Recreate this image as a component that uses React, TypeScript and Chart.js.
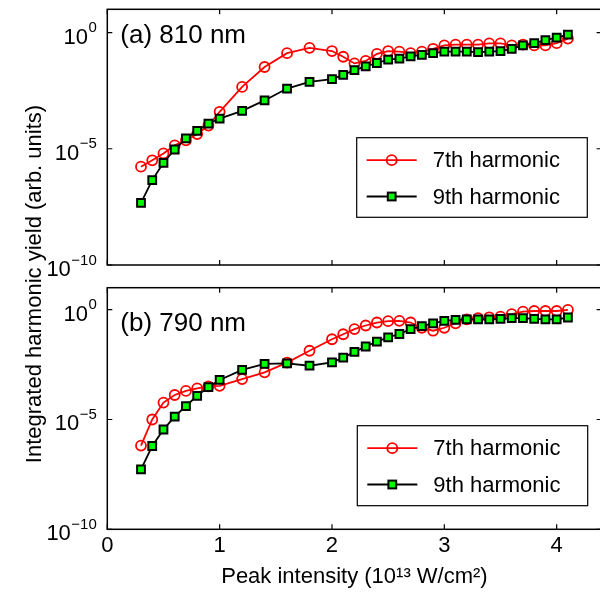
import React, { useEffect, useRef } from "react";
import { Chart, registerables } from "chart.js";

Chart.register(...registerables);

// ---------- data ----------
const intensity = [
  0.3, 0.4, 0.5, 0.6, 0.7, 0.8, 0.9, 1.0, 1.2, 1.4, 1.6, 1.8, 2.0, 2.1, 2.2, 2.3, 2.4,
  2.5, 2.6, 2.7, 2.8, 2.9, 3.0, 3.1, 3.2, 3.3, 3.4, 3.5, 3.6, 3.7, 3.8, 3.9, 4.0, 4.1,
];

const h7_810 = [
  1.7e-6, 3.2e-6, 6.3e-6, 1.4e-5, 2.3e-5, 4.3e-5, 1.0e-4, 3.9e-4, 4.6e-3, 3.3e-2, 0.13,
  0.22, 0.16, 0.091, 0.047, 0.06, 0.12, 0.16, 0.15, 0.13, 0.15, 0.2, 0.28, 0.3, 0.3, 0.3,
  0.34, 0.34, 0.28, 0.3, 0.28, 0.28, 0.35, 0.55,
];
const h9_810 = [
  4.7e-8, 4.5e-7, 2.5e-6, 9.3e-6, 2.8e-5, 5.9e-5, 1.2e-4, 2.0e-4, 4.3e-4, 1.2e-3, 3.9e-3,
  7.6e-3, 1.0e-2, 1.5e-2, 2.4e-2, 3.5e-2, 4.9e-2, 6.9e-2, 7.6e-2, 9.5e-2, 0.11, 0.13, 0.15,
  0.15, 0.15, 0.145, 0.15, 0.16, 0.2, 0.28, 0.35, 0.47, 0.6, 0.81,
];
const h7_790 = [
  6.5e-7, 1.0e-5, 5.9e-5, 1.3e-4, 2.0e-4, 2.6e-4, 3.2e-4, 3.4e-4, 6.9e-4, 1.4e-3, 3.9e-3,
  1.35e-2, 4.5e-2, 7.6e-2, 0.13, 0.19, 0.26, 0.3, 0.31, 0.26, 0.15, 0.11, 0.15, 0.24, 0.36,
  0.41, 0.45, 0.48, 0.62, 0.81, 0.87, 0.87, 0.87, 0.98,
];
const h9_790 = [
  5.4e-8, 6.2e-7, 3.5e-6, 1.35e-5, 4.1e-5, 1.2e-4, 3.0e-4, 6.3e-4, 1.8e-3, 3.4e-3, 3.6e-3,
  2.8e-3, 4.0e-3, 6.5e-3, 1.2e-2, 2.1e-2, 3.5e-2, 5.5e-2, 7.8e-2, 0.13, 0.18, 0.24, 0.31,
  0.34, 0.36, 0.36, 0.36, 0.38, 0.41, 0.41, 0.38, 0.36, 0.36, 0.44,
];

const yTickValues = [1e-10, 1e-5, 1];
const yTickBase = "10";
const yTickExponents = ["\u221210", "\u22125", "0"];
const xTickValues = [0, 1, 2, 3, 4];
const xTickLabels = ["0", "1", "2", "3", "4"];
const seriesLabels = ["7th harmonic", "9th harmonic"];
const panelLabels = ["(a) 810 nm", "(b) 790 nm"];
const xTitle = "Peak intensity (10\u00B9\u00B3 W/cm\u00B2)";
const yTitle = "Integrated harmonic yield (arb. units)";

// ---------- style ----------
const FONT = "'Liberation Sans', Arial, Helvetica, sans-serif";
const RED = "#ff0000";
const GREEN = "#00ff00";
const BLACK = "#000000";

const decorPlugin = {
  id: "decor",
  afterDraw(chart: any, _args: any, o: any) {
    const { ctx, chartArea: a, scales } = chart;
    const xs = scales.x;
    const ys = scales.y;
    ctx.save();
    // axes box
    ctx.strokeStyle = BLACK;
    ctx.lineWidth = 1.5;
    ctx.strokeRect(a.left, a.top, a.right - a.left, a.bottom - a.top);
    // inner ticks on all sides
    ctx.lineWidth = 1.2;
    ctx.beginPath();
    xs.ticks.forEach((t: any) => {
      const px = xs.getPixelForValue(t.value);
      ctx.moveTo(px, a.bottom);
      ctx.lineTo(px, a.bottom - 5);
      ctx.moveTo(px, a.top);
      ctx.lineTo(px, a.top + 5);
    });
    ys.ticks.forEach((t: any) => {
      const py = ys.getPixelForValue(t.value);
      ctx.moveTo(a.left, py);
      ctx.lineTo(a.left + 5, py);
      ctx.moveTo(a.right, py);
      ctx.lineTo(a.right - 5, py);
    });
    ctx.stroke();

    // y tick labels: 10 with raised exponent
    ctx.fillStyle = BLACK;
    ctx.textAlign = "left";
    ctx.textBaseline = "alphabetic";
    ys.ticks.forEach((t: any) => {
      const i = yTickValues.indexOf(t.value);
      if (i < 0) return;
      const py = ys.getPixelForValue(t.value);
      ctx.font = `22px ${FONT}`;
      const wb = ctx.measureText(yTickBase).width;
      ctx.font = `15px ${FONT}`;
      const we = ctx.measureText(yTickExponents[i]).width;
      const x0 = a.left - 11 - wb - we;
      ctx.font = `22px ${FONT}`;
      ctx.fillText(yTickBase, x0, py + 11);
      ctx.font = `15px ${FONT}`;
      ctx.fillText(yTickExponents[i], x0 + wb + 0.5, py - 0.5);
    });

    // panel label
    ctx.fillStyle = BLACK;
    ctx.font = `26px ${FONT}`;
    ctx.textAlign = "left";
    ctx.textBaseline = "alphabetic";
    ctx.fillText(o.label, a.left + o.labelDx, a.top + o.labelDy);

    // legend
    const lg = o.legend;
    ctx.fillStyle = "#ffffff";
    ctx.fillRect(lg.left, lg.top, lg.width, lg.height);
    ctx.strokeStyle = BLACK;
    ctx.lineWidth = 1.2;
    ctx.strokeRect(lg.left, lg.top, lg.width, lg.height);
    const rows = [
      { y: lg.top + 22.5, color: RED, marker: "circle", text: seriesLabels[0] },
      { y: lg.top + 58.8, color: BLACK, marker: "rect", text: seriesLabels[1] },
    ];
    rows.forEach((r) => {
      ctx.strokeStyle = r.color;
      ctx.lineWidth = 1.8;
      ctx.beginPath();
      ctx.moveTo(lg.left + 10, r.y);
      ctx.lineTo(lg.left + 60, r.y);
      ctx.stroke();
      const mx = lg.left + 35;
      if (r.marker === "circle") {
        ctx.beginPath();
        ctx.arc(mx, r.y, 5, 0, Math.PI * 2);
        ctx.lineWidth = 1.8;
        ctx.strokeStyle = RED;
        ctx.stroke();
      } else {
        const s = 3.9;
        ctx.fillStyle = GREEN;
        ctx.fillRect(mx - s, r.y - s, 2 * s, 2 * s);
        ctx.lineWidth = 2;
        ctx.strokeStyle = BLACK;
        ctx.strokeRect(mx - s, r.y - s, 2 * s, 2 * s);
      }
      ctx.fillStyle = BLACK;
      ctx.font = `22px ${FONT}`;
      ctx.textBaseline = "middle";
      ctx.textAlign = "left";
      ctx.fillText(r.text, lg.left + 76, r.y + 1);
    });

    // shared y title
    if (o.yTitle) {
      ctx.save();
      ctx.translate(o.yTitleX, o.yTitleY);
      ctx.rotate(-Math.PI / 2);
      ctx.font = `22px ${FONT}`;
      ctx.fillStyle = BLACK;
      ctx.textAlign = "center";
      ctx.textBaseline = "middle";
      ctx.fillText(o.yTitle, 0, 0);
      ctx.restore();
    }
    ctx.restore();
  },
};

function pts(values: number[]) {
  return intensity.map((x, i) => ({ x, y: values[i] }));
}

function zeroPad(s: any) {
  s.paddingTop = 0;
  s.paddingBottom = 0;
  s.paddingLeft = 0;
  s.paddingRight = 0;
}

function makeConfig(p: any): any {
  const tickFont = { family: FONT, size: 22 };
  return {
    type: "line",
    data: {
      datasets: [
        {
          label: seriesLabels[0],
          data: pts(p.h7),
          borderColor: RED,
          borderWidth: 1.8,
          pointStyle: "circle",
          pointRadius: 5,
          pointBorderWidth: 1.8,
          pointBorderColor: RED,
          pointBackgroundColor: "rgba(0,0,0,0)",
          fill: false,
          tension: 0,
          order: 2,
        },
        {
          label: seriesLabels[1],
          data: pts(p.h9),
          borderColor: BLACK,
          borderWidth: 1.8,
          pointStyle: "rect",
          pointRadius: 5.5,
          pointBorderWidth: 2,
          pointBorderColor: BLACK,
          pointBackgroundColor: GREEN,
          fill: false,
          tension: 0,
          order: 1,
        },
      ],
    },
    options: {
      animation: false,
      responsive: false,
      devicePixelRatio: 1,
      events: [],
      layout: { padding: { top: p.padTop, bottom: p.padBottom, left: 0, right: 18.4 } },
      plugins: {
        legend: { display: false },
        tooltip: { enabled: false },
        decor: {
          label: p.label,
          labelDx: 13,
          labelDy: p.labelDy,
          legend: p.legend,
          yTitle: p.yTitle,
          yTitleX: 35,
          yTitleY: 284,
        },
      },
      scales: {
        x: {
          type: "linear",
          min: 0,
          max: 4.4,
          afterBuildTicks: (s: any) => {
            s.ticks = xTickValues.map((v) => ({ value: v }));
          },
          afterFit: (s: any) => {
            s.height = p.xHeight;
            zeroPad(s);
          },
          grid: { display: false, drawTicks: false },
          border: { display: false },
          ticks: {
            display: p.showX,
            font: tickFont,
            color: BLACK,
            padding: 3,
            autoSkip: false,
            maxRotation: 0,
            callback: (v: number) => {
              const i = xTickValues.indexOf(v);
              return i >= 0 ? xTickLabels[i] : "";
            },
          },
          title: {
            display: p.showX,
            text: xTitle,
            font: tickFont,
            color: BLACK,
            padding: { top: 0, bottom: 6.8 },
          },
        },
        y: {
          type: "logarithmic",
          min: 1e-10,
          max: 10,
          afterBuildTicks: (s: any) => {
            s.ticks = yTickValues.map((v) => ({ value: v }));
          },
          afterFit: (s: any) => {
            s.width = 107.3;
            zeroPad(s);
          },
          grid: { display: false, drawTicks: false },
          border: { display: false },
          ticks: { display: false },
        },
      },
    },
    plugins: [decorPlugin],
  };
}

export default function App() {
  const topRef = useRef<HTMLCanvasElement>(null);
  const botRef = useRef<HTMLCanvasElement>(null);

  useEffect(() => {
    const top = new Chart(
      topRef.current as HTMLCanvasElement,
      makeConfig({
        h7: h7_810,
        h9: h9_810,
        label: panelLabels[0],
        labelDy: 33.4,
        padTop: 9.3,
        padBottom: 332,
        xHeight: 0,
        showX: false,
        legend: { left: 356.7, top: 137.7, width: 230.6, height: 79.6 },
        yTitle: null,
      })
    );
    const bottom = new Chart(
      botRef.current as HTMLCanvasElement,
      makeConfig({
        h7: h7_790,
        h9: h9_790,
        label: panelLabels[1],
        labelDy: 43,
        padTop: 287.7,
        padBottom: 0,
        xHeight: 67.7,
        showX: true,
        legend: { left: 357.3, top: 425.7, width: 230.4, height: 80 },
        yTitle: yTitle,
      })
    );
    return () => {
      top.destroy();
      bottom.destroy();
    };
  }, []);

  const canvasStyle: React.CSSProperties = {
    position: "absolute",
    left: 0,
    top: 0,
    width: 620,
    height: 597,
  };

  return (
    <div
      style={{
        position: "fixed",
        left: 0,
        top: 0,
        width: 600,
        height: 597,
        overflow: "hidden",
        background: "#ffffff",
      }}
    >
      <canvas ref={topRef} width={620} height={597} style={canvasStyle} />
      <canvas ref={botRef} width={620} height={597} style={canvasStyle} />
    </div>
  );
}
